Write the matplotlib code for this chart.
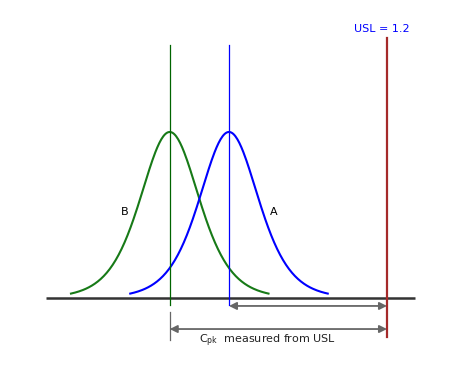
import numpy as np
import matplotlib
matplotlib.use("Agg")
import matplotlib.pyplot as plt

# process values
usl = 1.2
mean_a = 0.80
mean_b = 0.65
scale = 0.05          # spread of each bell curve
curve_labels = ["A", "B"]
usl_label = "USL = 1.2"
cpk_label = r"C$_\mathregular{pk}$  measured from USL"

fig = plt.figure(figsize=(4.5, 3.75), dpi=100)
ax = fig.add_axes([0, 0, 1, 1])
ax.set_xlim(0.2203, 1.3595)
ax.set_ylim(-0.4639, 1.795)
ax.axis("off")

green = "#177a17"
blue = "#0000ff"
gray = "#666666"

def bell(mu):
    # logistic-shaped density, scaled to a peak of 1
    x = np.linspace(mu - 5 * scale, mu + 5 * scale, 200)
    return x, 1.0 / np.cosh((x - mu) / (2 * scale)) ** 2

xb, yb = bell(mean_b)
xa, ya = bell(mean_a)
ax.plot(xb, yb, color=green, lw=1.5)
ax.plot(xa, ya, color=blue, lw=1.5)

# baseline
ax.plot([0.337, 1.271], [0, 0], color="#333333", lw=1.8, solid_capstyle="butt")

# mean lines
ax.plot([mean_b, mean_b], [-0.042, 1.524], color="#006400", lw=0.9)
ax.plot([mean_a, mean_a], [-0.042, 1.524], color=blue, lw=0.9)
ax.plot([mean_b, mean_b], [-0.084, -0.253], color=gray, lw=0.9)

# USL line
ax.plot([usl, usl], [-0.235, 1.566], color="#a52a2a", lw=1.6)

# arrows
arrow = dict(arrowstyle="<|-|>", color=gray, lw=1.3, mutation_scale=11,
             shrinkA=0, shrinkB=0)
ax.annotate("", xy=(mean_a, -0.048), xytext=(usl, -0.048), arrowprops=arrow)
ax.annotate("", xy=(mean_b, -0.187), xytext=(usl, -0.187), arrowprops=arrow)

ax.text(0.897, -0.255, cpk_label, ha="center", va="center", fontsize=8, color="#222222")
ax.text(usl - 0.013, 1.62, usl_label, ha="center", va="center", fontsize=8, color=blue)
ax.text(mean_a + 0.112, 0.52, curve_labels[0], ha="center", va="center", fontsize=8)
ax.text(mean_b - 0.114, 0.52, curve_labels[1], ha="center", va="center", fontsize=8)

fig.savefig("out.png", dpi=100)
